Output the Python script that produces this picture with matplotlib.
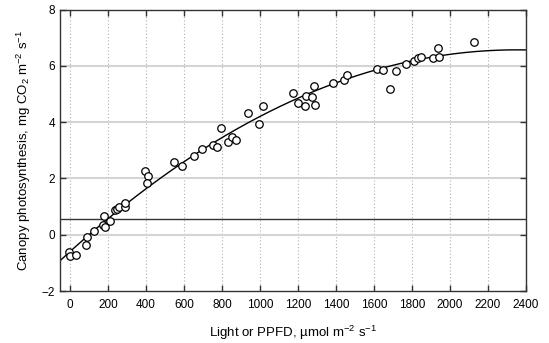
import numpy as np
import matplotlib
matplotlib.use("Agg")
import matplotlib.pyplot as plt

plt.rcParams['font.family'] = ['Liberation Sans', 'DejaVu Sans']
plt.rcParams['mathtext.default'] = 'regular'

ppfd = [-5, 0, 31, 83, 91, 124, 176, 180, 184, 208, 236, 245, 258, 287, 291,
        393, 412, 406, 547, 588, 655, 695, 755, 775, 796, 833, 853, 872,
        937, 996, 1016, 1174, 1200, 1241, 1239, 1271, 1283, 1291, 1382, 1441,
        1456, 1617, 1645, 1682, 1716, 1766, 1812, 1834, 1849, 1910, 1938,
        1942, 2124]
photo = [-0.60, -0.75, -0.71, -0.36, -0.07, 0.14, 0.36, 0.68, 0.29, 0.50,
         0.86, 0.92, 0.98, 0.98, 1.13, 2.26, 2.08, 1.85, 2.60, 2.44, 2.80,
         3.04, 3.17, 3.10, 3.80, 3.31, 3.48, 3.36, 4.31, 3.93, 4.57, 5.05,
         4.69, 4.93, 4.57, 4.88, 5.29, 4.61, 5.40, 5.50, 5.68, 5.89, 5.86,
         5.18, 5.80, 6.07, 6.18, 6.27, 6.33, 6.26, 6.63, 6.30, 6.83]

# quadratic fit coefficients (a + b*x + c*x^2)
fit_coeffs = [-0.60, 0.0061, -1.298e-6]
ref_line = 0.57
xticks = [0, 200, 400, 600, 800, 1000, 1200, 1400, 1600, 1800, 2000, 2200, 2400]
yticks = [-2, 0, 2, 4, 6, 8]

fig = plt.figure(figsize=(5.49, 3.43), dpi=100)
ax = fig.add_axes([0.1102, 0.1516, 0.848, 0.8207])
ax.set_xlim(-50, 2400)
ax.set_ylim(-2, 8)

for xt in xticks:
    ax.axvline(xt, color='#b0b0b0', lw=0.8, ls=(0, (1, 2)), zorder=0)
for yt in [0, 2, 4, 6]:
    ax.axhline(yt, color='#d4d4d4', lw=1.5, zorder=0)
ax.axhline(ref_line, color='#333333', lw=1.0, zorder=1)

xf = np.linspace(-50, 2400, 300)
yf = fit_coeffs[0] + fit_coeffs[1] * xf + fit_coeffs[2] * xf ** 2
ax.plot(xf, yf, color='black', lw=1.0, zorder=2)

ax.plot(ppfd, photo, 'o', mfc='white', mec='black', mew=0.9, ms=5.4, zorder=3)

ax.set_xticks(xticks)
ax.set_yticks(yticks)
ax.tick_params(direction='in', length=4, width=1, labelsize=8.5,
               top=True, right=True, colors='#333333', labelcolor='black')
ax.tick_params(axis='x', pad=6)
ax.tick_params(axis='y', pad=4)
for s in ax.spines.values():
    s.set_linewidth(1.0)
    s.set_color('#333333')
ax.set_xlabel('Light or PPFD, µmol m$^{-2}$ s$^{-1}$', fontsize=9.5, labelpad=9)
ax.set_ylabel('Canopy photosynthesis, mg CO$_2$ m$^{-2}$ s$^{-1}$', fontsize=9.5, labelpad=6)

fig.savefig('out.png', dpi=100)
